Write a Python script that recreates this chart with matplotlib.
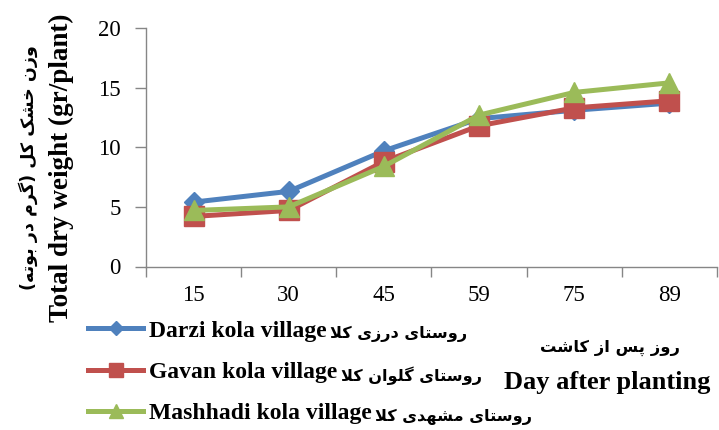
import matplotlib
matplotlib.use("Agg")
import matplotlib.pyplot as plt

# ---------------- data ----------------
days = ["15", "30", "45", "59", "75", "89"]
darzi = [5.4, 6.3, 9.7, 12.4, 13.1, 13.7]
gavan = [4.2, 4.7, 8.8, 11.8, 13.3, 13.9]
mashhadi = [4.7, 5.0, 8.4, 12.7, 14.6, 15.4]

names_en = ["Darzi kola village", "Gavan kola village", "Mashhadi kola village"]
names_fa = ["روستای درزی کلا", "روستای گلوان کلا", "روستای مشهدی کلا"]
xlabel_fa = "روز پس از کاشت"
xlabel_en = "Day after planting"
ylabel_fa = "وزن خشک کل (گرم در بوته)"
ylabel_en = "Total dry weight (gr/plant)"
yticks = [0, 5, 10, 15, 20]

# ------------- simple Persian shaping (presentation forms) -------------
FORMS = {
    'ا': ('\uFE8D', '\uFE8E', None, None),
    'ب': ('\uFE8F', '\uFE90', '\uFE91', '\uFE92'),
    'پ': ('\uFB56', '\uFB57', '\uFB58', '\uFB59'),
    'ت': ('\uFE95', '\uFE96', '\uFE97', '\uFE98'),
    'خ': ('\uFEA5', '\uFEA6', '\uFEA7', '\uFEA8'),
    'د': ('\uFEA9', '\uFEAA', None, None),
    'ر': ('\uFEAD', '\uFEAE', None, None),
    'ز': ('\uFEAF', '\uFEB0', None, None),
    'س': ('\uFEB1', '\uFEB2', '\uFEB3', '\uFEB4'),
    'ش': ('\uFEB5', '\uFEB6', '\uFEB7', '\uFEB8'),
    'ک': ('\uFB8E', '\uFB8F', '\uFB90', '\uFB91'),
    'گ': ('\uFB92', '\uFB93', '\uFB94', '\uFB95'),
    'ل': ('\uFEDD', '\uFEDE', '\uFEDF', '\uFEE0'),
    'م': ('\uFEE1', '\uFEE2', '\uFEE3', '\uFEE4'),
    'ن': ('\uFEE5', '\uFEE6', '\uFEE7', '\uFEE8'),
    'ه': ('\uFEE9', '\uFEEA', '\uFEEB', '\uFEEC'),
    'و': ('\uFEED', '\uFEEE', None, None),
    'ی': ('\uFBFC', '\uFBFD', '\uFBFE', '\uFBFF'),
}


def joins_next(c):
    return c in FORMS and FORMS[c][2] is not None


def shape(text):
    ch = list(text)
    n = len(ch)
    res = []
    i = 0
    while i < n:
        c = ch[i]
        if c not in FORMS:
            res.append(c)
            i += 1
            continue
        prev = ch[i - 1] if i > 0 else None
        jp = prev is not None and joins_next(prev)
        if c == 'ل' and i + 1 < n and ch[i + 1] == 'ا':
            res.append('\uFEFC' if jp else '\uFEFB')
            i += 2
            continue
        nxt = ch[i + 1] if i + 1 < n else None
        jn = joins_next(c) and nxt is not None and nxt in FORMS
        iso, fin, ini, med = FORMS[c]
        if jp and jn:
            g = med
        elif jp:
            g = fin
        elif jn:
            g = ini
        else:
            g = iso
        res.append(g)
        i += 1
    s = ''.join(reversed(res))
    return s.translate(str.maketrans('()', ')('))


SERIF = ['Liberation Serif', 'DejaVu Sans']
FA = ['DejaVu Sans']

W, H = 719, 430
fig = plt.figure(figsize=(W / 100, H / 100), dpi=100)
ax = fig.add_axes([146 / W, 1 - 266.5 / H, (717 - 146) / W, (266.5 - 28) / H])

colors = ["#4F81BD", "#C0504D", "#9BBB59"]
markers = ["D", "s", "^"]
msizes = [10, 14, 15]
series = [darzi, gavan, mashhadi]
xs = range(len(days))
handles = []
for vals, col, mk, ms in zip(series, colors, markers, msizes):
    h, = ax.plot(xs, vals, color=col, lw=3.6, marker=mk, ms=ms,
                 markeredgecolor=col, markerfacecolor=col, solid_joinstyle='round')
    handles.append(h)

ax.set_xlim(-0.5, len(days) - 0.5)
ax.set_ylim(0, 20)
ax.set_yticks(yticks)
ax.set_yticklabels([str(v) for v in yticks], family=SERIF, fontsize=16.5)
ax.set_xticks([i - 0.5 for i in range(len(days) + 1)], minor=False)
ax.set_xticklabels([""] * (len(days) + 1))
ax.set_xticks(list(xs), minor=True)
ax.set_xticklabels(days, minor=True, family=SERIF, fontsize=16.5)
ax.tick_params(axis='x', which='minor', length=0, pad=13)
ax.tick_params(axis='x', which='major', length=7, color='#868686', width=1)
ax.tick_params(axis='y', length=8, color='#868686', width=1, pad=10)
for s in ['top', 'right']:
    ax.spines[s].set_visible(False)
for s in ['left', 'bottom']:
    ax.spines[s].set_color('#868686')
    ax.spines[s].set_linewidth(1)

# y-axis titles
fig.text(61 / W, 1 - 168 / H, ylabel_en, rotation=90, ha='center', va='center',
         family=SERIF, fontweight='bold', fontsize=19.5)
fig.text(28 / W, 1 - 168 / H, shape(ylabel_fa), rotation=90, ha='center', va='center',
         family=FA, fontweight='bold', fontsize=12.6)

# x-axis titles
fig.text(610 / W, 1 - 348 / H, shape(xlabel_fa), ha='center', va='center',
         family=FA, fontweight='bold', fontsize=11.8)
fig.text(607 / W, 1 - 383 / H, xlabel_en, ha='center', va='center',
         family=SERIF, fontweight='bold', fontsize=19)

# legend
leg = fig.legend(handles, names_en, loc='upper left',
                 bbox_to_anchor=(88 / W, 1 - 320 / H), frameon=False,
                 borderpad=0, borderaxespad=0, handlelength=2.35,
                 handletextpad=0.22, labelspacing=0.84, markerscale=0.7,
                 prop={'family': SERIF, 'weight': 'bold', 'size': 17})
fig.canvas.draw()
renderer = fig.canvas.get_renderer()
for t, fa in zip(leg.get_texts(), names_fa):
    bb = t.get_window_extent(renderer)
    fig.text((bb.x1 + 4) / W, (bb.y0 + bb.y1) / 2 / H - 3 / H, shape(fa), ha='left',
             va='center', family=FA, fontweight='bold', fontsize=11.6)

fig.savefig("out.png", dpi=100)
